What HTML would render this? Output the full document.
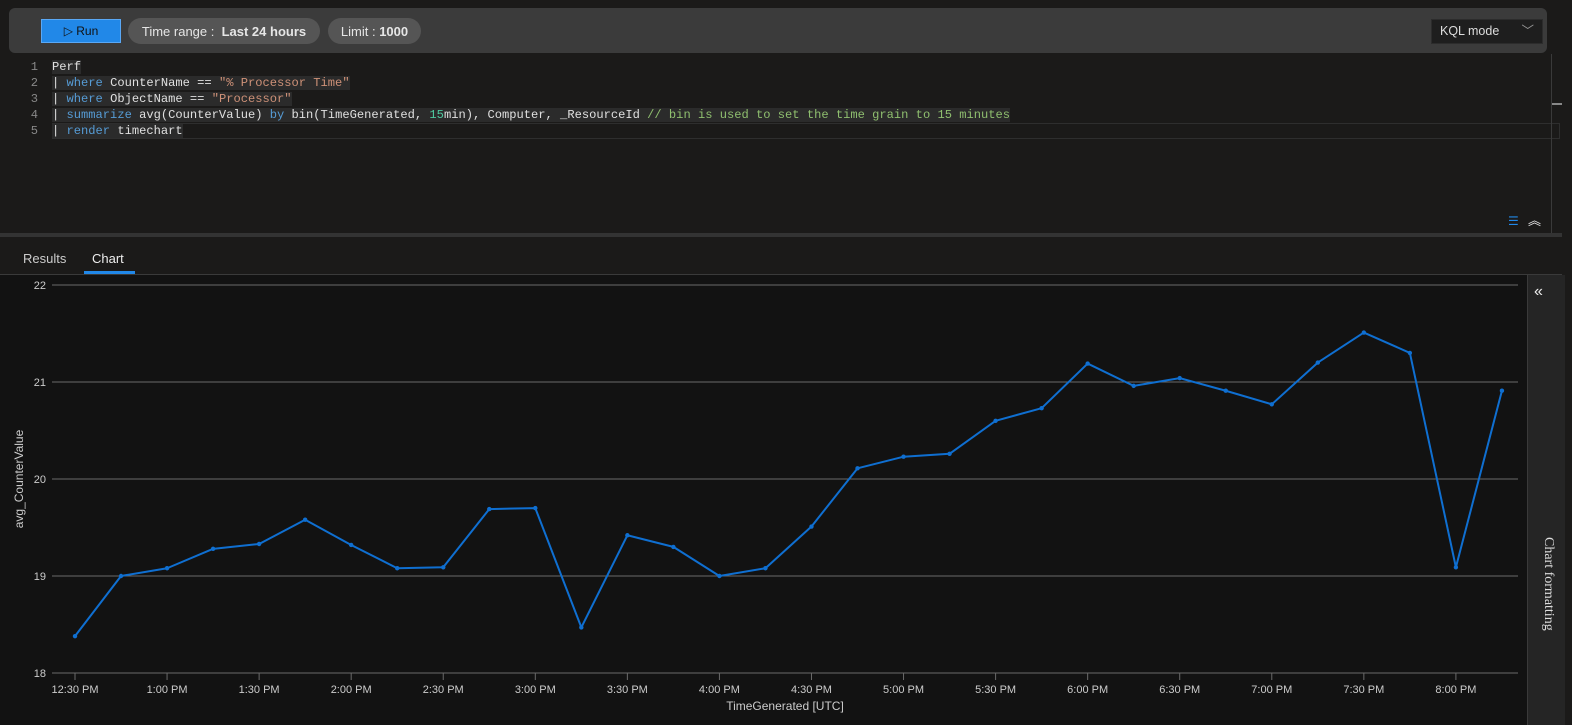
<!DOCTYPE html>
<html><head><meta charset="utf-8">
<style>
*{box-sizing:border-box;margin:0;padding:0}
body{width:1572px;height:725px;background:#1b1a19;overflow:hidden;font-family:"Liberation Sans",sans-serif;color:#ddd;position:relative}
.abs{position:absolute}
.toolbar{left:9px;top:8px;width:1538px;height:45px;background:#3b3b3b;border-radius:6px}
.run{left:41px;top:19px;width:80px;height:24px;background:#2188e8;border:1px solid #5aa8f5;color:#111;font-size:12px;display:flex;align-items:center;justify-content:center}
.pill{top:18px;height:26px;background:#555;border-radius:13px;font-size:13px;color:#e6e6e6;display:flex;align-items:center;justify-content:center}
.kql{left:1431px;top:19px;width:112px;height:25px;background:#1e1e1e;border:1px solid #2c2c2c;font-size:12.5px;color:#ddd;padding-left:8px;line-height:23px}
.code{font-family:"Liberation Mono",monospace;font-size:12.1px;line-height:16px;white-space:pre}
.ln{left:22px;top:59px;width:16px;text-align:right;color:#888}
.src{left:52px;top:59px;color:#e0e0e0}
.kw{color:#569cd6}.st{color:#ce9178}.nm{color:#4ec9a0}.cm{color:#8fbf6f}
.hl{background:#2b2b2b}
</style></head><body>
<div class="abs toolbar"></div>
<div class="abs run">▷ Run</div>
<div class="abs pill" style="left:128px;width:192px">Time range :&nbsp;&nbsp;<b style="font-weight:600">Last 24 hours</b></div>
<div class="abs pill" style="left:328px;width:93px">Limit :&nbsp;<b>1000</b></div>
<div class="abs kql">KQL mode<span style="position:absolute;right:8px;top:0;color:#999">﹀</span></div>

<div class="abs code ln">1
2
3
4
5</div>
<div class="abs" style="left:52px;top:123px;width:1508px;height:16px;border:1px solid #2e2e2e"></div>
<div class="abs code src"><span class="hl">Perf</span>
<span class="hl">| <span class="kw">where</span> CounterName == <span class="st">"% Processor Time"</span></span>
<span class="hl">| <span class="kw">where</span> ObjectName == <span class="st">"Processor"</span></span>
<span class="hl">| <span class="kw">summarize</span> avg(CounterValue) <span class="kw">by</span> bin(TimeGenerated, <span class="nm">15</span>min), Computer, _ResourceId <span class="cm">// bin is used to set the time grain to 15 minutes</span></span>
<span class="hl">| <span class="kw">render</span> timechart</span></div>
<div class="abs" style="left:1551px;top:54px;width:1px;height:180px;background:#3a3a3a"></div>
<div class="abs" style="left:1552px;top:103px;width:10px;height:2px;background:#888"></div>
<div class="abs" style="left:1508px;top:214px;color:#2188e8;font-size:12px">☰</div>
<div class="abs" style="left:1528px;top:210px;color:#eee;font-size:13px">︽</div>
<div class="abs" style="left:0;top:233px;width:1562px;height:4px;background:#333"></div>

<div class="abs" style="left:23px;top:251px;font-size:13px;color:#ccc">Results</div>
<div class="abs" style="left:92px;top:251px;font-size:13px;color:#eee">Chart</div>
<div class="abs" style="left:84px;top:271px;width:51px;height:3px;background:#2188e8"></div>
<div class="abs" style="left:0;top:274px;width:1562px;height:1px;background:#3a3a3a"></div>
<div class="abs" style="left:0;top:275px;width:1527px;height:450px;background:#121212"></div>
<div class="abs" style="left:1527px;top:275px;width:38px;height:450px;background:#252525;border-left:1px solid #3a3a3a">
<div style="position:absolute;left:6px;top:8px;font-size:16px;color:#eee">«</div>
<div style="position:absolute;top:262px;transform:rotate(90deg);transform-origin:0 0;left:28px;font-family:'Liberation Serif',serif;font-size:14px;color:#ddd;white-space:nowrap">Chart formatting</div>
</div>

<svg class="abs" style="left:0;top:0" width="1527" height="725" id="chart"></svg>
<script>
const yTicks=[18,19,20,21,22];
const xTickLabels=["12:30 PM","1:00 PM","1:30 PM","2:00 PM","2:30 PM","3:00 PM","3:30 PM","4:00 PM","4:30 PM","5:00 PM","5:30 PM","6:00 PM","6:30 PM","7:00 PM","7:30 PM","8:00 PM"];
const values=[18.38,19.0,19.08,19.28,19.33,19.58,19.32,19.08,19.09,19.69,19.70,18.47,19.42,19.30,19.0,19.08,19.51,20.11,20.23,20.26,20.60,20.73,21.19,20.96,21.04,20.91,20.77,21.20,21.51,21.30,19.09,20.91];
const NS="http://www.w3.org/2000/svg";
const svg=document.getElementById('chart');
const y=v=>673-(v-18)*97;
const x=i=>75+i*46.03;
function mk(t,a){const e=document.createElementNS(NS,t);for(const k in a)e.setAttribute(k,a[k]);svg.appendChild(e);return e;}
yTicks.forEach(v=>{
  const l=mk('line',{x1:52,x2:1518,y1:y(v),y2:y(v),stroke:'#6a6a6a','stroke-width':1});
  
  
  const t=mk('text',{x:46,y:y(v)+4,'text-anchor':'end',fill:'#ccc','font-size':11,'font-family':'Liberation Sans, sans-serif'});
  t.textContent=v;
  
  
});
xTickLabels.forEach((s,i)=>{
  const px=x(i*2);
  const l=mk('line',{x1:px,x2:px,y1:673,y2:680,stroke:'#6a6a6a'});
  
  
  const t=mk('text',{x:px,y:693,'text-anchor':'middle',fill:'#ccc','font-size':11,'font-family':'Liberation Sans, sans-serif'});
  t.textContent=s;
  
  
});
const pl=mk('polyline',{points:values.map((v,i)=>x(i)+','+y(v)).join(' '),fill:'none',stroke:'#0f6fd1','stroke-width':2,'stroke-linejoin':'round'});


values.forEach((v,i)=>{
  const c=mk('circle',{cx:x(i),cy:y(v),r:2.2,fill:'#0f6fd1'});
  
  
});
const xt=mk('text',{x:785,y:710,'text-anchor':'middle',fill:'#ccc','font-size':12,'font-family':'Liberation Sans, sans-serif'});
xt.textContent='TimeGenerated [UTC]';


const yt=mk('text',{x:0,y:0,'text-anchor':'middle',fill:'#ccc','font-size':12,'font-family':'Liberation Sans, sans-serif',transform:'translate(23,479) rotate(-90)'});
yt.textContent='avg_CounterValue';


</script>
</body></html>
